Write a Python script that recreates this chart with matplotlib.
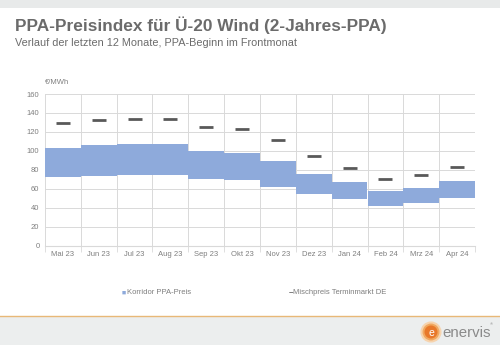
import matplotlib
matplotlib.use("Agg")
import matplotlib.pyplot as plt
from matplotlib.patches import Rectangle, Circle
import numpy as np

months = ["Mai 23", "Jun 23", "Jul 23", "Aug 23", "Sep 23", "Okt 23",
          "Nov 23", "Dez 23", "Jan 24", "Feb 24", "Mrz 24", "Apr 24"]
korridor_low = [72, 74, 75, 75, 70, 69, 62, 55, 49, 42, 45, 50]
korridor_high = [103, 106, 107, 107, 100, 98, 89, 76, 67, 58, 61, 68]
mischpreis = [129, 133, 134, 134, 125, 123, 111, 95, 82, 70, 75, 83]
y_ticks = [0, 20, 40, 60, 80, 100, 120, 140, 160]

plt.rcParams["font.family"] = ["Liberation Sans", "DejaVu Sans"]

fig = plt.figure(figsize=(5.0, 3.45), dpi=100)
fig.patch.set_facecolor("white")

# header strip and footer band
fig.add_artist(Rectangle((0, 1 - 8 / 345), 1, 8 / 345, transform=fig.transFigure,
                         facecolor="#e8eaea", edgecolor="none", zorder=0))
fig.add_artist(Rectangle((0, 0), 1, 29 / 345, transform=fig.transFigure,
                         facecolor="#eceeee", edgecolor="none", zorder=0))
fig.add_artist(plt.Line2D([0, 1], [29 / 345, 29 / 345], transform=fig.transFigure,
                          color="#e8b877", lw=1.0))

fig.text(15 / 500, 1 - 25 / 345, "PPA-Preisindex für Ü-20 Wind (2-Jahres-PPA)",
         fontsize=12.4, fontweight="bold", color="#6b6b6b", va="center", ha="left")
fig.text(15 / 500, 1 - 43 / 345, "Verlauf der letzten 12 Monate, PPA-Beginn im Frontmonat",
         fontsize=7.8, color="#6b6b6b", va="center", ha="left")

ax = fig.add_axes([45 / 500, 1 - 245.7 / 345, 430 / 500, 151.7 / 345])
x = np.arange(len(months))
low = np.array(korridor_low)
high = np.array(korridor_high)
ax.bar(x, high - low, bottom=low, width=1.0, color="#8eaadb", edgecolor="none",
       zorder=2, label="Korridor PPA-Preis")
ax.plot(x, mischpreis, linestyle="none", marker="_", markersize=10, mew=2,
        color="#595959", zorder=3, label="Mischpreis Terminmarkt DE")

ax.set_xlim(-0.5, len(months) - 0.5)
ax.set_ylim(0, 160)
ax.set_yticks(y_ticks)
ax.set_xticks(x)
ax.set_xticklabels(months)
ax.set_xticks(np.arange(-0.5, len(months)), minor=True)
ax.grid(False)
ax.grid(axis="y", which="major", color="#d9d9d9", lw=0.7, zorder=0)
ax.grid(axis="x", which="minor", color="#d9d9d9", lw=0.7, zorder=0)
ax.tick_params(axis="both", which="both", length=0, labelsize=5.5, colors="#7f7f7f", pad=4)
ax.tick_params(axis="x", which="minor", length=4, color="#d9d9d9")
for s in ["top", "right", "left"]:
    ax.spines[s].set_visible(False)
ax.spines["bottom"].set_color("#d9d9d9")

fig.text(45 / 500, 1 - 82 / 345, "€/MWh", fontsize=5.5, color="#7f7f7f", va="center", ha="left")

# legend entries
fig.text(122 / 500, 1 - 293 / 345, "■", fontsize=5, color="#8eaadb", va="center", ha="left")
fig.text(127 / 500, 1 - 293 / 345, "Korridor PPA-Preis", fontsize=5.5, color="#7f7f7f",
         va="center", ha="left")
fig.text(289 / 500, 1 - 293 / 345, "–", fontsize=6, color="#595959", va="center", ha="left",
         fontweight="bold")
fig.text(293 / 500, 1 - 293 / 345, "Mischpreis Terminmarkt DE", fontsize=5.5, color="#7f7f7f",
         va="center", ha="left")

# footer logo
logo_ax = fig.add_axes([0, 0, 1, 1], facecolor="none")
logo_ax.set_xlim(0, 500)
logo_ax.set_ylim(345, 0)
logo_ax.axis("off")
logo_ax.add_patch(Circle((431, 332), 9.5, facecolor="#f0a860", edgecolor="#f6d3ad", lw=1.5))
logo_ax.add_patch(Circle((431, 332), 6.5, facecolor="#e8782a", edgecolor="none"))
logo_ax.text(431, 332.5, "e", fontsize=7.5, color="white", ha="center", va="center")
logo_ax.text(442, 333, "enervis", fontsize=10.8, color="#8a8a8a", ha="left", va="center")
logo_ax.text(490, 324, "®", fontsize=3, color="#8a8a8a", ha="left", va="center")

fig.savefig("out.png", dpi=100, facecolor="white")
